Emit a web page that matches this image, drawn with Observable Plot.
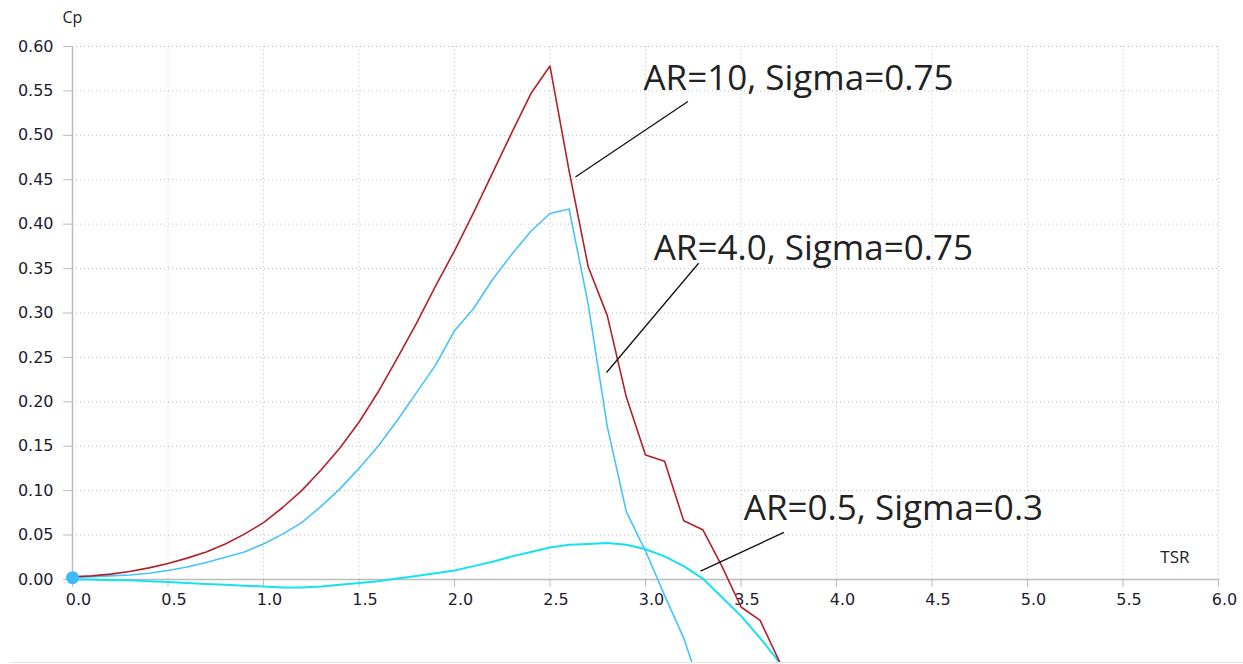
<!DOCTYPE html>
<html><head><meta charset="utf-8">
<script src="https://cdn.jsdelivr.net/npm/d3@7"></script>
<script src="https://cdn.jsdelivr.net/npm/@observablehq/plot@0.6"></script>
<style>
body{margin:0;background:#fff;}
#wrap{position:relative;width:1243px;height:664px;overflow:hidden;}
#wrap svg{display:block;}
#bottomline{position:absolute;left:10px;right:0;top:662px;height:1px;background:#e4e4e4;}
</style></head><body><div id="wrap"><div id="bottomline"></div></div>
<script>
// TSR values (x)
const tsr = [0,0.1,0.2,0.3,0.4,0.5,0.6,0.7,0.8,0.9,1.0,1.1,1.2,1.3,1.4,1.5,1.6,1.7,1.8,1.9,2.0,2.1,2.2,2.3,2.4,2.5,2.6,2.7,2.8,2.9,3.0,3.1,3.2,3.3,3.4,3.5,3.6,3.7,3.8];
// Cp, AR=10, Sigma=0.75
const cpAR10 = [0.003,0.004,0.006,0.009,0.013,0.018,0.024,0.031,0.040,0.051,0.064,0.081,0.100,0.123,0.148,0.177,0.211,0.249,0.288,0.330,0.370,0.413,0.458,0.503,0.547,0.578,0.460,0.352,0.297,0.205,0.140,0.133,0.066,0.056,0.015,-0.031,-0.046,-0.092,-0.140];
// Cp, AR=4.0, Sigma=0.75
const cpAR4 = [0.002,0.003,0.004,0.005,0.007,0.010,0.014,0.019,0.025,0.031,0.040,0.051,0.064,0.082,0.102,0.125,0.150,0.179,0.210,0.241,0.280,0.305,0.338,0.366,0.392,0.412,0.417,0.310,0.172,0.076,0.032,-0.018,-0.066,-0.130];
// Cp, AR=0.5, Sigma=0.3
const cpAR05 = [0.000,0.000,-0.001,-0.001,-0.002,-0.003,-0.004,-0.005,-0.006,-0.007,-0.008,-0.009,-0.009,-0.008,-0.006,-0.004,-0.002,0.001,0.004,0.007,0.010,0.015,0.020,0.026,0.031,0.036,0.039,0.040,0.041,0.039,0.034,0.026,0.015,0.001,-0.020,-0.041,-0.066,-0.093,-0.120];

const xTicks = [0,0.5,1,1.5,2,2.5,3,3.5,4,4.5,5,5.5,6];
const yTicks = [0,0.05,0.1,0.15,0.2,0.25,0.3,0.35,0.4,0.45,0.5,0.55,0.6];
const xTitle = "TSR";
const yTitle = "Cp";

// annotations
const labels = ["AR=10, Sigma=0.75","AR=4.0, Sigma=0.75","AR=0.5, Sigma=0.3"];
const labelX = [2.989,3.043,3.515];
const labelY = [0.5637,0.3726,0.0791];
const leaderX1 = [2.633,2.796,3.288];
const leaderY1 = [0.453,0.233,0.0093];
const leaderX2 = [3.222,3.278,3.725];
const leaderY2 = [0.538,0.356,0.053];

const W = 1243, H = 662, mT = 46, mB = 0, mL = 72, mR = 25;
const yMin = -0.0935, yMax = 0.6;
const y0px = mT + (yMax - 0) / (yMax - yMin) * (H - mT - mB);

const toPts = (ys) => ys.map((y, i) => ({x: tsr[i], y}));
const idx = labels.map((_, i) => i);
const fx = d3.format(".1f");

const chart = Plot.plot({
  width: W, height: H,
  marginTop: mT, marginBottom: mB, marginLeft: mL, marginRight: mR,
  x: {domain: [0, 6]},
  y: {domain: [yMin, yMax]},
  style: {fontFamily: "DejaVu Sans", background: "#fff", overflow: "visible"},
  marks: [
    Plot.ruleY(yTicks.filter(d => d > 0), {x1: 0, x2: 6, stroke: "#bdbdbd", strokeDasharray: "1,3"}),
    Plot.ruleX(xTicks.filter(d => d > 0), {y1: 0, y2: yMax, stroke: "#bdbdbd", strokeDasharray: "1,3"}),
    Plot.ruleX([0], {y1: 0, y2: yMax, stroke: "#bcbcbc", strokeWidth: 1.5}),
    Plot.ruleY([0], {x1: 0, x2: 6, stroke: "#bcbcbc", strokeWidth: 1.5}),
    Plot.axisY({anchor: "left", ticks: yTicks, tickFormat: d3.format(".2f"), tickSize: 9, tickPadding: 10,
      stroke: "#bcbcbc", fill: "#1c1c30", fontSize: 16, label: null}),
    Plot.axisX({anchor: "bottom", ticks: xTicks, tickFormat: () => "", tickSize: 8,
      dy: y0px - (H - mB), stroke: "#bcbcbc", label: null}),
    Plot.text(xTicks, {x: d => d, y: 0, text: d => fx(d), dx: 6, dy: 20, lineAnchor: "middle",
      fill: "#1c1c30", fontSize: 16}),
    Plot.line(toPts(cpAR05), {x: "x", y: "y", stroke: "#14e2ef", strokeWidth: 2, clip: true}),
    Plot.line(toPts(cpAR4), {x: "x", y: "y", stroke: "#45c4fa", strokeWidth: 1.6, clip: true}),
    Plot.line(toPts(cpAR10), {x: "x", y: "y", stroke: "#b3202a", strokeWidth: 1.6, clip: true}),
    Plot.dot([{x: tsr[0], y: cpAR4[0]}], {x: "x", y: "y", r: 6.5, fill: "#3dbbf6", stroke: "none"}),
    Plot.link(idx, {x1: i => leaderX1[i], y1: i => leaderY1[i], x2: i => leaderX2[i], y2: i => leaderY2[i], stroke: "#111", strokeWidth: 1.3}),
    Plot.text(idx, {x: i => labelX[i], y: i => labelY[i], text: i => labels[i], textAnchor: "start", lineAnchor: "middle",
      fontFamily: "Open Sans", fontSize: 35, fill: "#222"}),
    Plot.text([yTitle], {frameAnchor: "top-left", text: d => d, dx: -10, dy: -29, textAnchor: "start", lineAnchor: "middle",
      fontFamily: "Open Sans", fontSize: 16, fill: "#222"}),
    Plot.text([xTitle], {x: 6, y: 0, text: d => d, dx: -29, dy: -22, textAnchor: "end", lineAnchor: "middle",
      fontFamily: "Open Sans", fontSize: 17, fill: "#222"})
  ]
});
document.getElementById("wrap").prepend(chart);
</script>
</body></html>
